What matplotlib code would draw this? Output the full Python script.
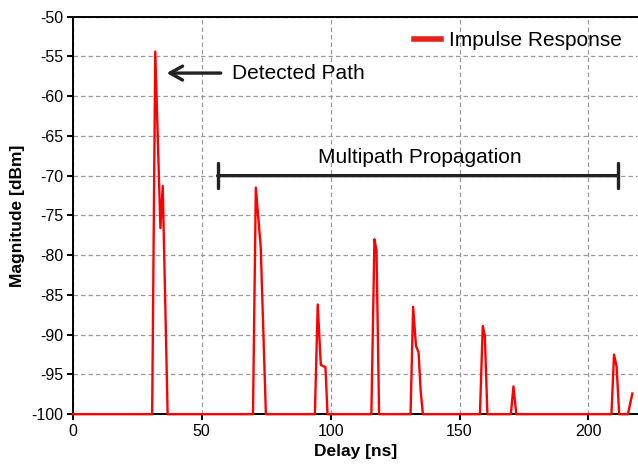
import matplotlib
matplotlib.use("Agg")
import matplotlib.pyplot as plt
from matplotlib.lines import Line2D

plt.rcParams["font.family"] = ["Liberation Sans", "DejaVu Sans"]
plt.rcParams["axes.unicode_minus"] = False

# impulse response (delay in ns, magnitude in dBm)
delay_ns = [0, 30.8, 32.0, 34.0, 34.9, 36.8,
            69.9, 71.0, 72.9, 74.9,
            93.9, 95.0, 96.2, 98.0, 98.8,
            115.8, 117.0, 117.8, 118.8,
            131.0, 132.0, 133.1, 134.1, 134.9, 135.8,
            157.9, 159.0, 159.8, 160.8,
            169.9, 170.9, 172.0,
            208.9, 209.9, 210.9, 211.9,
            215.3, 217.0]
magnitude_dbm = [-100, -100, -54.4, -76.6, -71.3, -100,
                 -100, -71.5, -79.0, -100,
                 -100, -86.2, -93.8, -94.1, -100,
                 -100, -78.0, -79.4, -100,
                 -100, -86.5, -91.4, -92.2, -97.0, -100,
                 -100, -88.9, -90.1, -100,
                 -100, -96.5, -100,
                 -100, -92.5, -94.0, -100,
                 -100, -97.4]

x_ticks = [0, 50, 100, 150, 200]
y_ticks = list(range(-100, -49, 5))

fig = plt.figure(figsize=(6.38, 4.75), dpi=100)
ax = fig.add_axes([0.114, 0.128, 0.886, 0.837])

ax.plot(delay_ns, magnitude_dbm, color="#ff0000", lw=1.7, zorder=3, clip_on=False)

ax.set_xlim(0, 219.2)
ax.set_ylim(-100, -50)
ax.set_xticks(x_ticks)
ax.set_yticks(y_ticks)
ax.grid(True, color="#9a9a9a", lw=0.9, linestyle=(0, (3.5, 2.5)))
ax.set_axisbelow(True)

for side in ("left", "bottom", "top"):
    ax.spines[side].set_linewidth(1.4)
    ax.spines[side].set_color("black")
ax.spines["right"].set_visible(False)
ax.tick_params(direction="out", length=4, width=1.4, labelsize=11.5, pad=3)

ax.set_xlabel("Delay [ns]", fontsize=12.5, fontweight="bold", labelpad=4)
ax.set_ylabel("Magnitude [dBm]", fontsize=12.5, fontweight="bold", labelpad=4)

# annotations
ax.annotate("", xy=(36.4, -57.1), xytext=(57.4, -57.1),
            arrowprops=dict(arrowstyle="->,head_length=0.9,head_width=0.5",
                            color="#222222", lw=2.4, shrinkA=0, shrinkB=0))
ax.text(61.7, -57.1, "Detected Path", fontsize=15, va="center", ha="left")

ax.annotate("", xy=(56.2, -70.0), xytext=(211.4, -70.0),
            arrowprops=dict(arrowstyle="|-|,widthA=0.9,widthB=0.9",
                            color="#222222", lw=2.4, shrinkA=0, shrinkB=0))
ax.text(134.7, -67.7, "Multipath Propagation", fontsize=15, va="center", ha="center")

handle = Line2D([], [], color="#e8201a", lw=4)
ax.legend([handle], ["Impulse Response"], loc="upper right", frameon=False,
          fontsize=15, handlelength=1.3, handletextpad=0.35,
          bbox_to_anchor=(0.993, 0.995), borderaxespad=0.2)

fig.savefig("out.png", dpi=100)
